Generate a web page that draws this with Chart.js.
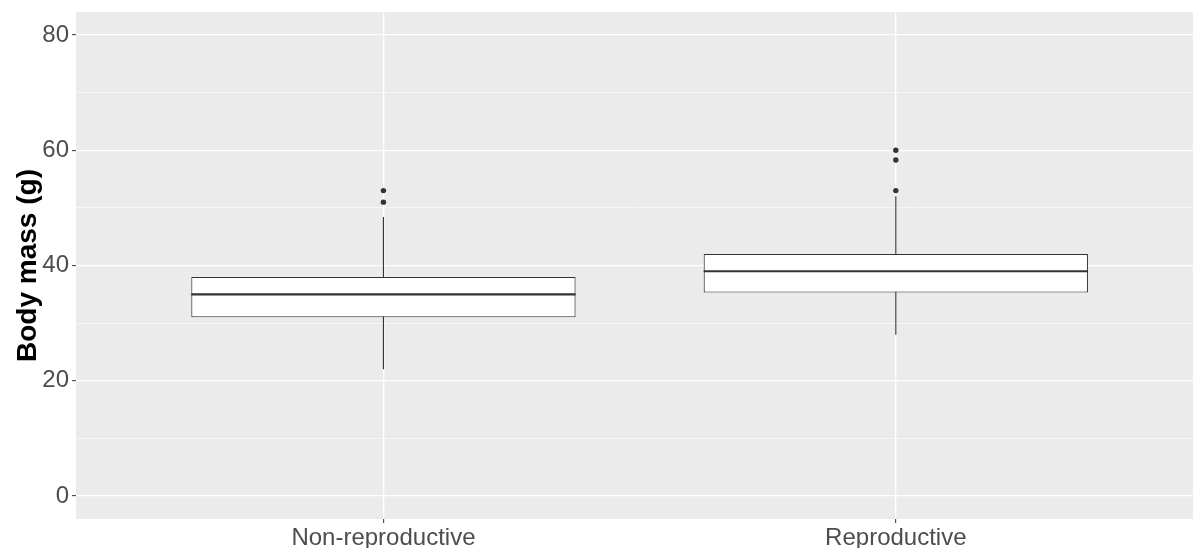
<!DOCTYPE html>
<html>
<head>
<meta charset="utf-8">
<script src="https://cdn.jsdelivr.net/npm/chart.js@4"></script>
<style>
  body { margin: 0; background: #fff; }
  #wrap { width: 1193px; height: 548px; }
</style>
</head>
<body>
<div id="wrap"><canvas id="massChart"></canvas></div>
<script>
// summary stats
const groups = ["Non-reproductive", "Reproductive"];
const whiskerLow = [22, 28];
const lowerQuartile = [31, 35.3];
const medians = [35, 39];
const upperQuartile = [38, 42];
const whiskerHigh = [48.4, 52];
const outliers = [[51, 53], [53, 58.3, 60]];
const yTicks = [0, 10, 20, 30, 40, 50, 60, 70, 80];

const BOX_WIDTH = 0.75;
const INK = "#333333";

const panelBackground = {
    id: "panelBackground",
    beforeDraw(chart) {
        const { ctx, chartArea: a } = chart;
        ctx.save();
        ctx.fillStyle = "#EBEBEB";
        ctx.fillRect(a.left, a.top, a.right - a.left, a.bottom - a.top);
        ctx.restore();
    }
};

const whiskerSets = groups.map((g, i) => ({
    type: "line",
    data: [{ x: i + 1, y: whiskerLow[i] }, { x: i + 1, y: whiskerHigh[i] }],
    borderColor: INK,
    borderWidth: 1.1,
    pointRadius: 0,
    order: 4
}));

const medianSets = groups.map((g, i) => ({
    type: "line",
    data: [
        { x: i + 1 - BOX_WIDTH / 2, y: medians[i] },
        { x: i + 1 + BOX_WIDTH / 2, y: medians[i] }
    ],
    borderColor: INK,
    borderWidth: 2.2,
    pointRadius: 0,
    order: 2
}));

const boxSet = {
    type: "bar",
    data: groups.map((g, i) => ({ x: i + 1, y: [lowerQuartile[i], upperQuartile[i]] })),
    backgroundColor: "#FFFFFF",
    borderColor: INK,
    borderWidth: 1.1,
    borderSkipped: false,
    categoryPercentage: 1,
    barPercentage: BOX_WIDTH,
    order: 3
};

const outlierSet = {
    type: "scatter",
    data: outliers.flatMap((vals, i) => vals.map(v => ({ x: i + 1, y: v }))),
    backgroundColor: INK,
    borderWidth: 0,
    pointRadius: 2.7,
    order: 1
};

Chart.defaults.font.family = "'Liberation Sans', Arial, sans-serif";

new Chart(document.getElementById("massChart"), {
    type: "bar",
    data: { datasets: [...whiskerSets, boxSet, ...medianSets, outlierSet] },
    plugins: [panelBackground],
    options: {
        responsive: true,
        maintainAspectRatio: false,
        animation: false,
        layout: { autoPadding: false, padding: { top: 12, right: 0, bottom: 0, left: 0 } },
        plugins: { legend: { display: false }, tooltip: { enabled: false } },
        scales: {
            x: {
                type: "linear",
                min: 0.4,
                max: 2.58,
                offset: false,
                afterBuildTicks: s => { s.ticks = groups.map((g, i) => ({ value: i + 1 })); },
                afterFit: s => { s.height = 29; s.paddingLeft = 0; s.paddingRight = 0; },
                border: { display: false },
                grid: { offset: false, color: "#FFFFFF", lineWidth: 1.3, tickLength: 4, tickColor: INK, tickWidth: 1 },
                ticks: {
                    autoSkip: false,
                    maxRotation: 0,
                    padding: 1,
                    color: "#4D4D4D",
                    font: { size: 24 },
                    callback: (v, i) => groups[i]
                }
            },
            y: {
                type: "linear",
                min: -4,
                max: 84,
                afterBuildTicks: s => { s.ticks = yTicks.map(v => ({ value: v })); },
                afterFit: s => { s.width = 76; s.paddingTop = 0; s.paddingBottom = 0; },
                border: { display: false },
                grid: {
                    color: "#FFFFFF",
                    lineWidth: c => (c.tick && c.tick.value % 20 === 0 ? 1.3 : 0.6),
                    tickLength: 4,
                    tickWidth: 1,
                    tickColor: c => (c.tick && c.tick.value % 20 === 0 ? INK : "rgba(0,0,0,0)")
                },
                ticks: {
                    autoSkip: false,
                    padding: 3,
                    color: "#4D4D4D",
                    font: { size: 24 },
                    callback: v => (v % 20 === 0 ? v : "")
                },
                title: {
                    display: true,
                    text: "Body mass (g)",
                    color: "#000000",
                    font: { size: 28, weight: "bold" },
                    padding: { top: 11, bottom: 0 }
                }
            }
        }
    }
});
</script>
</body>
</html>
